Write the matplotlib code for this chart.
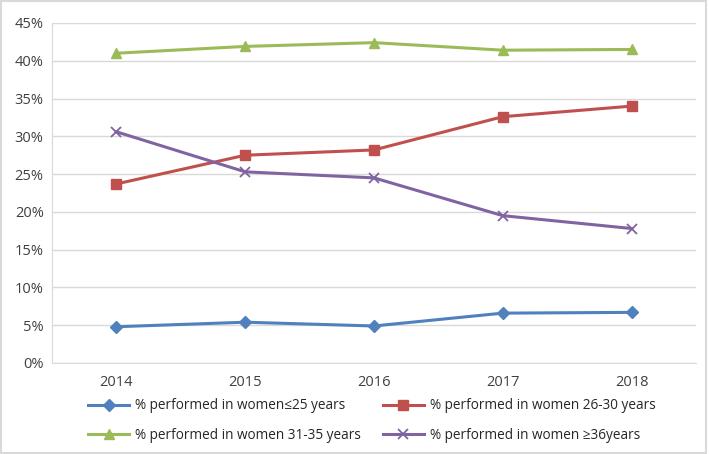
import matplotlib.pyplot as plt
from matplotlib.ticker import PercentFormatter

years = ["2014", "2015", "2016", "2017", "2018"]
le25 = [4.8, 5.4, 4.9, 6.6, 6.7]
w26_30 = [23.7, 27.5, 28.2, 32.6, 34.0]
w31_35 = [41.0, 41.9, 42.4, 41.4, 41.5]
ge36 = [30.6, 25.3, 24.5, 19.5, 17.8]

labels = [
    "% performed in women\u226425 years",
    "% performed in women 26-30 years",
    "% performed in women 31-35 years",
    "% performed in women \u226536years",
]

plt.rcParams["font.family"] = ["Open Sans", "DejaVu Sans"]

fig = plt.figure(figsize=(7.09, 4.54), dpi=100)
ax = fig.add_axes([52 / 709, 1 - 363 / 454, 644 / 709, 340 / 454])

x = range(len(years))
ax.plot(x, le25, color="#4F81BD", lw=2.2, marker="D", ms=6, label=labels[0])
ax.plot(x, w26_30, color="#C0504D", lw=2.2, marker="s", ms=7.5, label=labels[1])
ax.plot(x, w31_35, color="#9BBB59", lw=2.2, marker="^", ms=7.5, label=labels[2])
ax.plot(x, ge36, color="#8064A2", lw=2.2, marker="x", ms=7, mew=1.3, label=labels[3])

ax.set_xlim(-0.5, len(years) - 0.5)
ax.set_ylim(0, 45)
ax.set_yticks(range(0, 46, 5))
ax.yaxis.set_major_formatter(PercentFormatter(decimals=0))
ax.set_xticks(list(x))
ax.set_xticklabels(years)
ax.grid(axis="y", color="#D9D9D9", lw=1)
ax.set_axisbelow(True)
for s in ["top", "right"]:
    ax.spines[s].set_visible(False)
for s in ["left", "bottom"]:
    ax.spines[s].set_color("#D9D9D9")
ax.tick_params(axis="both", length=0, labelsize=10.5, colors="#404040")
ax.tick_params(axis="x", pad=9)
ax.tick_params(axis="y", pad=6)

# legend is filled row by row in the reference
h, l = ax.get_legend_handles_labels()
order = [0, 2, 1, 3]
fig.legend([h[i] for i in order], [l[i] for i in order],
           loc="lower left", bbox_to_anchor=(76 / 709, -1 / 454), ncol=2,
           frameon=False, fontsize=9.8, columnspacing=1.6, handlelength=3,
           labelspacing=1.05, handletextpad=0.45, labelcolor="#262626")

fig.patches.append(plt.Rectangle((0.002, 0.003), 0.994, 0.994, transform=fig.transFigure,
                                 fill=False, ec="#D9D9D9", lw=1.5))
fig.savefig("out.png", dpi=100)
